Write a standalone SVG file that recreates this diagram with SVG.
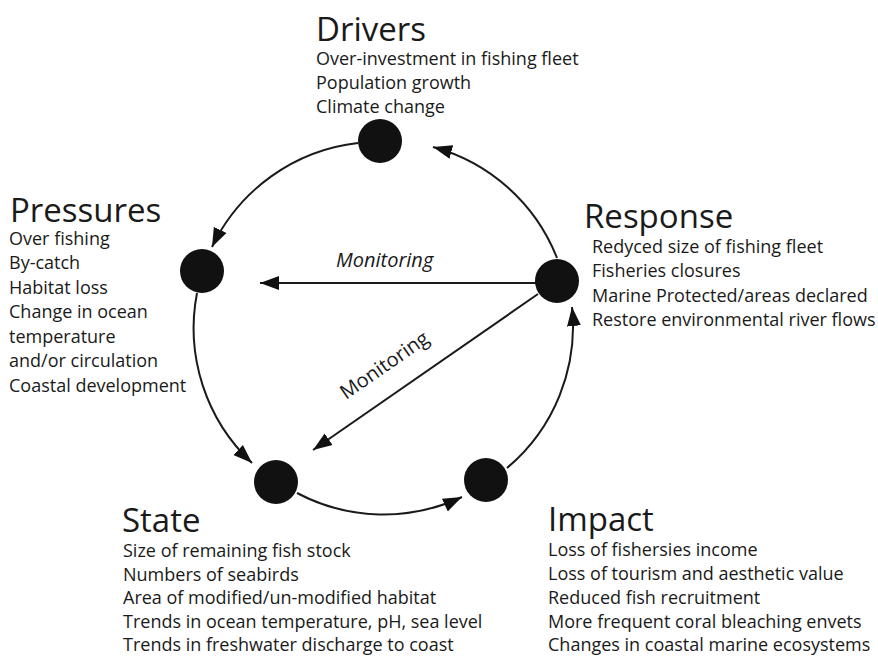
<svg xmlns="http://www.w3.org/2000/svg" width="878" height="659" viewBox="0 0 878 659">
<defs>
<style>
.t{font-family:"Open Sans","Noto Sans",sans-serif;font-size:33px;fill:#1a1a1a}
.i{font-family:"Open Sans","Noto Sans",sans-serif;font-size:18px;fill:#1a1a1a}
.m{font-family:"Open Sans","Noto Sans",sans-serif;font-size:20px;fill:#1a1a1a}
.c{fill:none;stroke:#1a1a1a;stroke-width:2}
.n{fill:#111}
</style>
<marker id="ah" markerUnits="userSpaceOnUse" markerWidth="20" markerHeight="16" viewBox="0 0 20 16" refX="19" refY="8" orient="auto"><path d="M0,1 L19,8 L0,15 z" fill="#111"/></marker>
</defs>
<rect width="878" height="659" fill="#fff"/>
<g id="connectors">
<path class="c" d="M358,143 A185,185 0 0,0 212,247" marker-end="url(#ah)"/>
<path class="c" d="M557,258 A185,185 0 0,0 433,147" marker-end="url(#ah)"/>
<path class="c" d="M197,293 A185,185 0 0,0 252,463" marker-end="url(#ah)"/>
<path class="c" d="M297,493 A185,185 0 0,0 462,497" marker-end="url(#ah)"/>
<path class="c" d="M507,468 A185,185 0 0,0 572,307" marker-end="url(#ah)"/>
<path class="c" d="M536,283 L260,283" marker-end="url(#ah)"/>
<path class="c" d="M538,294 L313,450" marker-end="url(#ah)"/>
<text class="m" x="336" y="267" font-style="italic">Monitoring</text>
<text class="m" transform="translate(346,400) rotate(-34.7)">Monitoring</text>
</g>
<g id="drivers">
<circle class="n" cx="380" cy="141" r="22"/>
<text class="t" x="316" y="41">Drivers</text>
<text class="i" x="316" y="65">Over-investment in fishing fleet</text>
<text class="i" x="316" y="89">Population growth</text>
<text class="i" x="316" y="113">Climate change</text>
</g>
<g id="pressures">
<circle class="n" cx="202" cy="271" r="22"/>
<text class="t" x="10" y="222">Pressures</text>
<text class="i" x="9" y="245">Over fishing</text>
<text class="i" x="9" y="269">By-catch</text>
<text class="i" x="9" y="294">Habitat loss</text>
<text class="i" x="9" y="318">Change in ocean</text>
<text class="i" x="9" y="343">temperature</text>
<text class="i" x="9" y="367">and/or circulation</text>
<text class="i" x="9" y="392">Coastal development</text>
</g>
<g id="response">
<circle class="n" cx="557" cy="281" r="22"/>
<text class="t" x="584" y="228">Response</text>
<text class="i" x="592" y="253">Redyced size of fishing fleet</text>
<text class="i" x="592" y="277">Fisheries closures</text>
<text class="i" x="592" y="302">Marine Protected/areas declared</text>
<text class="i" x="592" y="326">Restore environmental river flows</text>
</g>
<g id="state">
<circle class="n" cx="276" cy="482" r="22"/>
<text class="t" x="122" y="532">State</text>
<text class="i" x="123" y="557">Size of remaining fish stock</text>
<text class="i" x="123" y="581">Numbers of seabirds</text>
<text class="i" x="123" y="604">Area of modified/un-modified habitat</text>
<text class="i" x="123" y="628">Trends in ocean temperature, pH, sea level</text>
<text class="i" x="123" y="651">Trends in freshwater discharge to coast</text>
</g>
<g id="impact">
<circle class="n" cx="486" cy="480" r="22"/>
<text class="t" x="548" y="531">Impact</text>
<text class="i" x="548" y="556">Loss of fishersies income</text>
<text class="i" x="548" y="580">Loss of tourism and aesthetic value</text>
<text class="i" x="548" y="604">Reduced fish recruitment</text>
<text class="i" x="548" y="628">More frequent coral bleaching envets</text>
<text class="i" x="548" y="651">Changes in coastal marine ecosystems</text>
</g>
</svg>
